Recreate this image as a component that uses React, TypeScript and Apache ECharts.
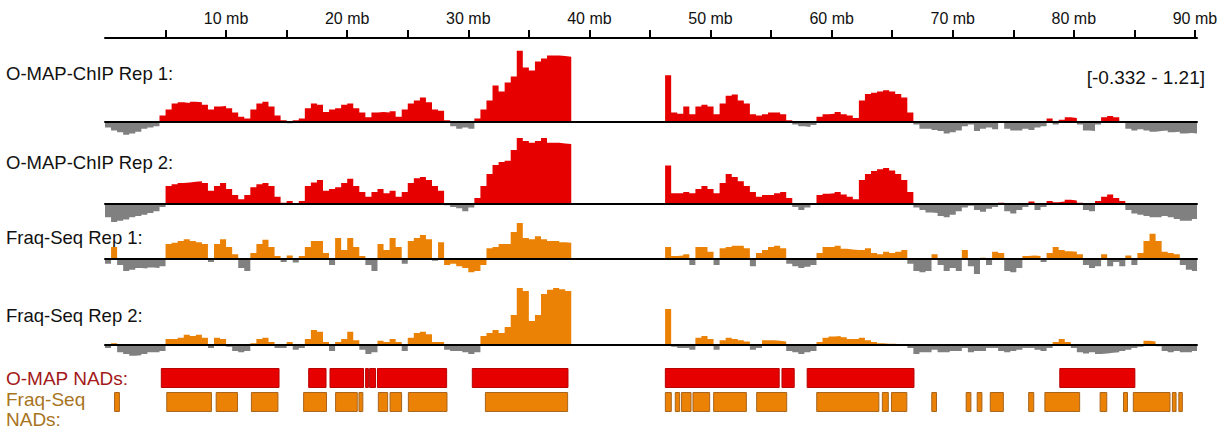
import React, { useEffect, useRef } from "react";
import * as echarts from "echarts";

// ---------------- data ----------------
const CHROM_END_MB = 90.17;
const BIN_MB = 0.5;
const ARM1_START_MB = 0;
const ARM2_START_MB = 46.25;
const TICK_FIRST_MB = 5;
const TICK_LAST_MB = 90;
const TICK_STEP_MB = 5;
const LABEL_STEP_MB = 10;
const Y_RANGE = [-0.332, 1.21];
const rangeLabel = "[-0.332 - 1.21]";

const trackNames = ["O-MAP-ChIP Rep 1:", "O-MAP-ChIP Rep 2:", "Fraq-Seq Rep 1:", "Fraq-Seq Rep 2:"];
const nadNames = ["O-MAP NADs:", "Fraq-Seq\nNADs:"];

// O-MAP-ChIP Rep 1 (0.5 mb bins)
const omapRep1Arm1 = [
  -0.1, -0.15, -0.18, -0.22, -0.2, -0.17, -0.12, -0.1, -0.08,
  0.1, 0.2, 0.3, 0.32, 0.31, 0.33, 0.32, 0.28, 0.2, 0.25, 0.26,
  0.22, 0.15, 0.08, 0.05, 0.2, 0.3, 0.33, 0.25, 0.1, 0.02,
  -0.03, 0.02, 0.05, 0.22, 0.3, 0.28, 0.16, 0.2, 0.22, 0.28,
  0.3, 0.22, 0.15, 0.07, 0.15, 0.16, 0.15, 0.17, 0.08, 0.2,
  0.3, 0.35, 0.4, 0.32, 0.2, 0.18, 0.02, -0.08, -0.12, -0.1,
  -0.12, 0.05, 0.2, 0.35, 0.6, 0.5, 0.65, 0.75, 1.18, 0.9,
  0.85, 1.0, 1.05, 1.1, 1.1, 1.09, 1.08,
];
const omapRep1Arm2 = [
  0.77, 0.15, 0.13, 0.25, 0.12, 0.25, 0.28, 0.25,
  0.12, 0.3, 0.43, 0.45, 0.35, 0.3, 0.12, 0.1, 0.12, 0.15,
  0.15, 0.12, 0.02, -0.05, -0.08, -0.09, -0.06, 0.08, 0.12, 0.13,
  0.16, 0.12, 0.1, 0.06, 0.35, 0.46, 0.48, 0.5, 0.52, 0.5,
  0.46, 0.4, 0.15, -0.05, -0.12, -0.12, -0.14, -0.16, -0.2, -0.18,
  -0.15, -0.08, -0.05, -0.16, -0.12, -0.1, -0.13, 0.01, -0.12, -0.15,
  -0.15, -0.12, -0.14, -0.1, -0.08, 0.05, -0.05, 0.03, 0.07, 0.06,
  -0.05, -0.15, -0.16, -0.05, 0.07, 0.09, 0.07, 0.01, -0.12, -0.15,
  -0.13, -0.15, -0.17, -0.16, -0.15, -0.18, -0.17, -0.2, -0.19, -0.2, -0.18,
];

// O-MAP-ChIP Rep 2
const omapRep2Arm1 = [
  -0.22, -0.3, -0.28, -0.26, -0.22, -0.2, -0.18, -0.15, -0.12,
  -0.05, 0.3, 0.33, 0.35, 0.36, 0.37, 0.38, 0.35, 0.22, 0.3, 0.35,
  0.25, 0.15, 0.08, 0.15, 0.28, 0.33, 0.35, 0.3, 0.12, 0.02,
  0.05, 0.01, 0.05, 0.3, 0.36, 0.4, 0.22, 0.25, 0.28, 0.35,
  0.42, 0.3, 0.2, 0.12, 0.2, 0.25, 0.18, 0.22, 0.12, 0.2,
  0.35, 0.43, 0.45, 0.4, 0.3, 0.22, -0.02, -0.05, -0.07, -0.12,
  -0.06, 0.1, 0.3, 0.5, 0.65, 0.7, 0.72, 0.9, 1.1, 1.05,
  1.02, 1.05, 1.1, 1.02, 1.02, 1.01, 1.0,
];
const omapRep2Arm2 = [
  0.64, 0.18, 0.18, 0.2, 0.18, 0.25, 0.3, 0.25,
  0.18, 0.35, 0.5, 0.45, 0.38, 0.3, 0.2, 0.12, 0.15, 0.15,
  0.18, 0.2, 0.1, -0.05, -0.1, -0.06, -0.01, 0.15, 0.17, 0.18,
  0.2, 0.16, 0.12, 0.08, 0.4, 0.5, 0.55, 0.58, 0.6, 0.56,
  0.5, 0.4, 0.2, -0.06, -0.1, -0.14, -0.15, -0.2, -0.22, -0.18,
  -0.12, -0.06, -0.03, -0.1, -0.13, -0.08, -0.05, 0.02, -0.12, -0.16,
  -0.1, -0.05, 0.04, -0.1, -0.05, 0.05, 0.03, 0.04, 0.07, 0.06,
  0.02, -0.1, -0.12, 0.05, 0.12, 0.16, 0.1, 0.05, -0.1, -0.16,
  -0.18, -0.2, -0.22, -0.22, -0.2, -0.22, -0.25, -0.28, -0.28, -0.25, -0.2,
];

// Fraq-Seq Rep 1
const fraqRep1Arm1 = [
  -0.08, 0.2, -0.1, -0.2, -0.18, -0.15, -0.16, -0.14, -0.15, -0.12,
  0.25, 0.27, 0.3, 0.33, 0.3, 0.28, 0.25, -0.05, 0.25, 0.33,
  0.2, 0.08, -0.15, -0.2, 0.1, 0.25, 0.32, 0.2, 0.05, -0.05,
  0.06, -0.06, 0.05, 0.2, 0.3, 0.3, 0.1, -0.1, 0.35, 0.15,
  0.35, 0.2, 0.05, -0.1, -0.2, 0.25, 0.15, 0.35, 0.2, -0.08,
  0.3, 0.35, 0.4, 0.33, -0.03, 0.28, -0.1, -0.08, -0.12, -0.15,
  -0.22, -0.2, -0.1, 0.18, 0.2, 0.25, 0.25, 0.45, 0.6, 0.35,
  0.33, 0.38, 0.33, 0.3, 0.3, 0.28, 0.27,
];
const fraqRep1Arm2 = [
  0.2, 0.05, 0.06, 0.08, -0.1, 0.2, 0.2, 0.12,
  -0.1, 0.18, 0.2, 0.22, 0.22, 0.18, -0.12, 0.1, 0.15, 0.2,
  0.22, 0.18, -0.08, -0.12, -0.15, -0.13, -0.1, 0.1, 0.2, 0.2,
  0.22, 0.17, 0.16, 0.15, 0.15, 0.18, 0.1, 0.08, 0.12, 0.1,
  0.12, 0.15, -0.08, -0.2, -0.22, -0.2, 0.08, -0.1, -0.2, -0.15,
  -0.2, 0.15, -0.12, -0.25, 0.02, -0.1, 0.12, 0.1, -0.2, -0.22,
  -0.15, 0.05, 0.06, 0.05, -0.05, 0.1, 0.2, 0.15, 0.13, 0.12,
  0.08, -0.1, -0.15, -0.12, 0.08, -0.12, -0.05, -0.12, 0.06, -0.1,
  0.1, 0.3, 0.42, 0.3, 0.12, 0.1, 0.08, -0.1, -0.18, -0.2, -0.15,
];
// region where Fraq-Seq Rep 1 negative values are drawn in the track colour
const fraqRep1ColouredNegRange = [28.0, 31.5];

// Fraq-Seq Rep 2
const fraqRep2Arm1 = [
  -0.05, 0.03, -0.12, -0.15, -0.18, -0.17, -0.15, -0.12, -0.12, -0.1,
  0.1, 0.1, 0.12, 0.17, 0.15, 0.17, 0.12, -0.05, 0.12, 0.1,
  -0.03, -0.1, -0.12, -0.1, 0.03, 0.1, 0.12, 0.05, -0.05, -0.05,
  0.05, -0.08, -0.05, 0.1, 0.25, 0.22, 0.05, -0.1, 0.05, 0.1,
  0.22, 0.08, -0.08, -0.15, -0.12, 0.07, 0.05, 0.1, 0.05, -0.1,
  0.12, 0.2, 0.22, 0.18, 0.05, 0.05, -0.08, -0.1, -0.1, -0.12,
  -0.15, -0.12, 0.15, 0.2, 0.25, 0.2, 0.3, 0.5, 0.95, 0.9,
  0.4, 0.5, 0.85, 0.92, 0.95, 0.93, 0.9,
];
const fraqRep2Arm2 = [
  0.6, -0.03, -0.05, -0.05, -0.08, 0.12, 0.15, 0.1,
  -0.08, 0.08, 0.12, 0.1, 0.08, 0.06, -0.08, -0.05, 0.08, 0.08,
  0.07, 0.06, -0.1, -0.12, -0.15, -0.12, -0.1, 0.05, 0.12, 0.14,
  0.15, 0.13, 0.1, 0.1, 0.12, 0.08, 0.05, 0.03, 0.02, 0.02,
  0.01, 0.01, -0.05, -0.15, -0.12, -0.12, -0.08, -0.12, -0.12, -0.1,
  -0.1, -0.05, -0.12, -0.1, -0.1, -0.05, -0.05, -0.1, -0.12, -0.1,
  -0.08, -0.05, -0.05, -0.08, -0.1, -0.05, 0.05, 0.1, 0.05, -0.05,
  -0.12, -0.14, -0.12, -0.15, -0.14, -0.13, -0.12, -0.1, -0.08, -0.05,
  -0.03, 0.07, 0.06, -0.02, -0.1, -0.12, -0.1, -0.12, -0.12, -0.1, -0.08,
];

// NAD calls [start mb, end mb]
const omapNADs = [
  [4.65, 14.37], [16.82, 18.25], [18.58, 21.35], [21.52, 21.75], [21.85, 22.34],
  [22.5, 28.21], [30.33, 38.23], [46.27, 55.67], [55.9, 56.91], [57.98, 66.8],
  [78.84, 85.04],
];
const fraqNADs = [
  [0.79, 1.19], [5.1, 8.79], [9.18, 10.94], [12.09, 14.28], [16.4, 18.29],
  [19.04, 20.83], [20.97, 21.29], [22.57, 23.34], [23.54, 24.49], [25.05, 28.24],
  [31.41, 38.2], [46.27, 46.76], [47.09, 47.45], [47.61, 48.39], [48.55, 49.93],
  [50.26, 52.96], [53.81, 56.29], [58.77, 63.9], [64.19, 64.68], [64.94, 66.21],
  [68.27, 68.66], [71.11, 71.5], [72.02, 72.41], [73.1, 74.18], [76.27, 76.69],
  [77.61, 80.48], [82.17, 82.72], [84.1, 84.43], [84.91, 87.94], [88.14, 88.44],
  [88.67, 88.96],
];

// ---------------- layout / style ----------------
const FONT = "'Liberation Sans', Arial, Helvetica, sans-serif";
const RED = "#e60000";
const ORANGE = "#eb8206";
const GREY = "#808080";
const PLOT_LEFT = 105;
const PLOT_WIDTH = 1092;
const PX_PER_MB = PLOT_WIDTH / CHROM_END_MB;
const AXIS_Y = 38;
const PX_PER_UNIT = 60;
const trackBaselines = [121.5, 204, 259, 345];
const trackLabelY = [73, 162, 237, 315];

function inRange(x: number, r: number[] | null) {
  return !!r && x >= r[0] - 1e-9 && x < r[1] - 1e-9;
}

function armSeries(values: number[], start: number, axisIdx: number, posColor: string, negColor: string, colouredNeg: number[] | null) {
  const pos: number[][] = [];
  const neg: number[][] = [];
  const negAlt: number[][] = [];
  values.forEach((v, k) => {
    const x0 = start + k * BIN_MB;
    const x1 = x0 + BIN_MB;
    const p = v > 0 ? v : 0;
    const alt = v < 0 && inRange(x0, colouredNeg);
    const n = v < 0 && !alt ? v : 0;
    const a = alt ? v : 0;
    pos.push([x0, p], [x1, p]);
    neg.push([x0, n], [x1, n]);
    negAlt.push([x0, a], [x1, a]);
  });
  const mk = (data: number[][], color: string) => ({
    type: "line",
    xAxisIndex: axisIdx,
    yAxisIndex: axisIdx,
    data,
    symbol: "none",
    showSymbol: false,
    silent: true,
    clip: true,
    lineStyle: { width: 0, opacity: 0 },
    areaStyle: { color, opacity: 1 },
    z: 2,
  });
  const out: any[] = [mk(pos, posColor), mk(neg, negColor)];
  if (colouredNeg) out.push(mk(negAlt, posColor));
  return out;
}

export default function App() {
  const ref = useRef<HTMLDivElement>(null);
  useEffect(() => {
    document.body.style.margin = "0";
    const chart = echarts.init(ref.current!, null, { renderer: "svg" });

    const tracks = [
      { arms: [omapRep1Arm1, omapRep1Arm2], color: RED, colouredNeg: null },
      { arms: [omapRep2Arm1, omapRep2Arm2], color: RED, colouredNeg: null },
      { arms: [fraqRep1Arm1, fraqRep1Arm2], color: ORANGE, colouredNeg: fraqRep1ColouredNegRange },
      { arms: [fraqRep2Arm1, fraqRep2Arm2], color: ORANGE, colouredNeg: null },
    ];

    const grids: any[] = [
      { left: PLOT_LEFT, width: PLOT_WIDTH, top: AXIS_Y, height: 1 },
      {
        left: PLOT_LEFT + TICK_FIRST_MB * PX_PER_MB,
        width: (TICK_LAST_MB - TICK_FIRST_MB) * PX_PER_MB,
        top: AXIS_Y,
        height: 1,
      },
    ];
    const xAxes: any[] = [
      {
        gridIndex: 0, type: "value", position: "top", min: 0, max: CHROM_END_MB,
        axisLine: { show: true, onZero: false, lineStyle: { color: "#000", width: 2 } },
        axisTick: { show: false }, axisLabel: { show: false }, splitLine: { show: false },
      },
      {
        gridIndex: 1, type: "value", position: "top", min: TICK_FIRST_MB, max: TICK_LAST_MB, interval: TICK_STEP_MB,
        axisLine: { show: false, onZero: false },
        axisTick: { show: true, length: 8, lineStyle: { color: "#000", width: 2 } },
        axisLabel: {
          show: true, margin: 12, color: "#111", fontSize: 16, fontFamily: FONT,
          formatter: (v: number) => (Math.abs(v % LABEL_STEP_MB) < 1e-6 ? `${v} mb` : ""),
        },
        splitLine: { show: false },
      },
    ];
    const yAxes: any[] = [
      { gridIndex: 0, type: "value", show: false, min: 0, max: 1 },
      { gridIndex: 1, type: "value", show: false, min: 0, max: 1 },
    ];
    const series: any[] = [];
    const span = Y_RANGE[1] - Y_RANGE[0];

    tracks.forEach((t, ti) => {
      const idx = 2 + ti;
      grids.push({
        left: PLOT_LEFT, width: PLOT_WIDTH,
        top: trackBaselines[ti] - Y_RANGE[1] * PX_PER_UNIT,
        height: span * PX_PER_UNIT,
      });
      xAxes.push({
        gridIndex: idx, type: "value", min: 0, max: CHROM_END_MB, z: 5,
        axisLine: { show: true, onZero: true, lineStyle: { color: "#000", width: 2 } },
        axisTick: { show: false }, axisLabel: { show: false }, splitLine: { show: false },
      });
      yAxes.push({ gridIndex: idx, type: "value", min: Y_RANGE[0], max: Y_RANGE[1], show: false, splitLine: { show: false } });
      series.push(...armSeries(t.arms[0], ARM1_START_MB, idx, t.color, GREY, t.colouredNeg));
      series.push(...armSeries(t.arms[1], ARM2_START_MB, idx, t.color, GREY, t.colouredNeg));
    });

    // NAD tracks
    const nadIdx = 6;
    grids.push({ left: PLOT_LEFT, width: PLOT_WIDTH, top: 366, height: 48 });
    xAxes.push({
      gridIndex: nadIdx, type: "value", min: 0, max: CHROM_END_MB, show: false,
      splitLine: { show: false },
    });
    yAxes.push({
      gridIndex: nadIdx, type: "category", data: ["omap", "fraq"], inverse: true, show: false,
    });
    const nadStyles = [
      { fill: RED, stroke: "#b80000" },
      { fill: ORANGE, stroke: "#a8641c" },
    ];
    const nadData: any[] = [];
    omapNADs.forEach((r) => nadData.push([r[0], r[1], 0]));
    fraqNADs.forEach((r) => nadData.push([r[0], r[1], 1]));
    series.push({
      type: "custom",
      xAxisIndex: nadIdx,
      yAxisIndex: nadIdx,
      silent: true,
      data: nadData,
      encode: { x: [0, 1], y: 2 },
      renderItem: (params: any, api: any) => {
        const row = api.value(2);
        const a = api.coord([api.value(0), row]);
        const b = api.coord([api.value(1), row]);
        const h = api.size([0, 1])[1] * 0.79;
        const st = nadStyles[row];
        return {
          type: "rect",
          shape: { x: a[0], y: a[1] - h / 2, width: Math.max(b[0] - a[0], 1), height: h },
          style: { fill: st.fill, stroke: st.stroke, lineWidth: 1 },
        };
      },
    });

    const graphics: any[] = [];
    trackNames.forEach((name, i) => {
      graphics.push({
        type: "text", x: 6, y: trackLabelY[i],
        style: { text: name, fill: "#111", fontSize: 18.5, fontFamily: FONT, verticalAlign: "middle", align: "left" },
      });
    });
    graphics.push({
      type: "text", x: 1205, y: 77,
      style: { text: rangeLabel, fill: "#111", fontSize: 19, fontFamily: FONT, verticalAlign: "middle", align: "right" },
    });
    graphics.push({
      type: "text", x: 6, y: 378,
      style: { text: nadNames[0], fill: "#a31818", fontSize: 19, fontFamily: FONT, verticalAlign: "middle", align: "left" },
    });
    graphics.push({
      type: "text", x: 6, y: 409,
      style: { text: nadNames[1], fill: "#a8741e", fontSize: 19, lineHeight: 20, fontFamily: FONT, verticalAlign: "middle", align: "left" },
    });

    chart.setOption({
      animation: false,
      backgroundColor: "#ffffff",
      grid: grids,
      xAxis: xAxes,
      yAxis: yAxes,
      series,
      graphic: graphics,
    });
    return () => chart.dispose();
  }, []);
  return <div ref={ref} style={{ width: 1229, height: 432 }} />;
}
